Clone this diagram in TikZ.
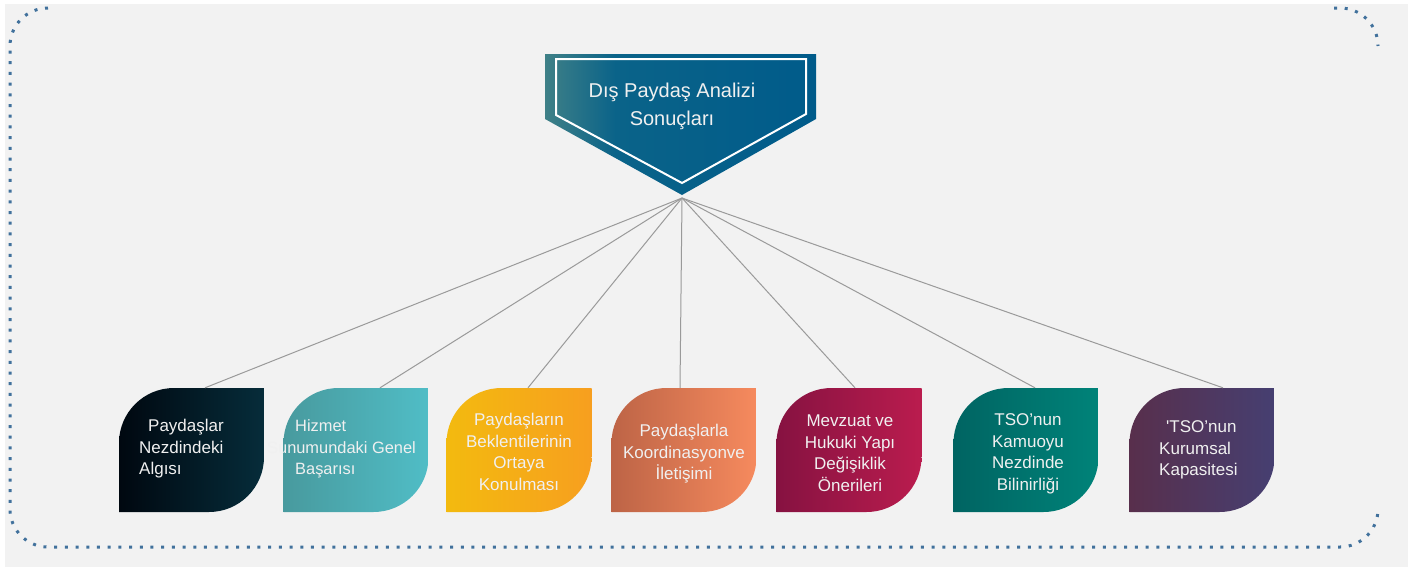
\documentclass[tikz,border=0pt]{standalone}
\usepackage{fontspec}
\setmainfont{Liberation Sans}
\definecolor{bggray}{HTML}{F2F2F2}
\definecolor{dotblue}{HTML}{41719C}
\definecolor{linkgray}{HTML}{9A9A9A}
\definecolor{headteal}{HTML}{3F8087}
\definecolor{headblue}{HTML}{0A6389}
\definecolor{headdark}{HTML}{005B8A}
\definecolor{b1left}{HTML}{000810}
\definecolor{b1right}{HTML}{062C3A}
\definecolor{b2left}{HTML}{489A9E}
\definecolor{b2right}{HTML}{50BDC6}
\definecolor{b3left}{HTML}{F3BA0F}
\definecolor{b3right}{HTML}{F79F1F}
\definecolor{b4left}{HTML}{BD6446}
\definecolor{b4right}{HTML}{F68A5E}
\definecolor{b5left}{HTML}{861241}
\definecolor{b5right}{HTML}{BA1C4E}
\definecolor{b6left}{HTML}{006462}
\definecolor{b6right}{HTML}{008379}
\definecolor{b7left}{HTML}{582F4C}
\definecolor{b7right}{HTML}{463F71}
\pgfdeclarehorizontalshading{headshade}{100bp}{color(0bp)=(headteal); color(25bp)=(headteal); color(38bp)=(headblue); color(75bp)=(headdark); color(100bp)=(headdark)}

\begin{document}
\begin{tikzpicture}[x=1pt, y=1pt,
	petal/.style 2 args={minimum width=145pt, minimum height=124pt, inner sep=0pt,
		path picture={\shade[left color=#1, right color=#2]
			([yshift=-55pt]path picture bounding box.north west) arc (180:90:55pt)
			-- (path picture bounding box.north east)
			-- ([yshift=55pt]path picture bounding box.south east) arc (0:-90:55pt)
			-- (path picture bounding box.south west) -- cycle;}},
	boxtext/.style={text=white!94!black, font=\fontsize{17}{21.5}\selectfont, inner sep=0pt},
	headtext/.style={text=white!94!black, font=\fontsize{20}{28}\selectfont, inner sep=0pt},
	link/.style={draw=linkgray, line width=1pt}]

	\useasboundingbox (0,0) rectangle (1416,-571);
	\fill[bggray] (5,-4) rectangle (1408,-567);

	%dotted frame
	\begin{scope}[dotblue, line width=3pt, dash pattern=on 3pt off 7.7pt]
		\draw (48,-8) arc (90:180:38) -- (10,-509) arc (180:270:38) -- (1340,-547) arc (270:360:38);
		\draw (1334,-8) -- (1340,-8) arc (90:0:38);
	\end{scope}

	%title
	\shade[shading=headshade] (545,-54) -- (816,-54) -- (816,-119) -- (682,-195) -- (545,-119) -- cycle;
	\draw[white, line width=2pt] (556,-59) -- (806,-59) -- (806,-114) -- (682,-183) -- (556,-115) -- cycle;
	\node[headtext, align=center] (head) at (672,-106) {Dış Paydaş Analizi\\Sonuçları};
	\coordinate (hub) at (682,-198);

	%boxes
	\node[petal={b1left}{b1right}] (b1) at (191.5,-450) {};
	\node[petal={b2left}{b2right}] (b2) at (356,-450) {};
	\node[petal={b3left}{b3right}] (b3) at (519,-450) {};
	\node[petal={b4left}{b4right}] (b4) at (684,-450) {};
	\node[petal={b5left}{b5right}] (b5) at (849,-450) {};
	\node[petal={b6left}{b6right}] (b6) at (1026,-450) {};
	\node[petal={b7left}{b7right}] (b7) at (1202,-450) {};

	%box labels
	\node[boxtext, align=left, anchor=west] (t1) at (139,-449) {\hspace*{9pt}Paydaşlar\\Nezdindeki\\Algısı};
	\node[boxtext, font=\fontsize{16.4}{21.5}\selectfont, align=left, anchor=west] (t2) at (267,-449) {\hspace*{28pt}Hizmet\\Sunumundaki Genel\\\hspace*{28pt}Başarısı};
	\node[boxtext, align=center] (t3) at (519,-452) {Paydaşların\\Beklentilerinin\\Ortaya\\Konulması};
	\node[boxtext, align=center] (t4) at (684,-454) {Paydaşlarla\\Koordinasyonve\\İletişimi};
	\node[boxtext, align=center] (t5) at (850,-453) {Mevzuat ve\\Hukuki Yapı\\Değişiklik\\Önerileri};
	\node[boxtext, align=center] (t6) at (1028,-454) {TSO’nun\\Kamuoyu\\Nezdinde\\Bilinirliği};
	\node[boxtext, align=left, anchor=west] (t7) at (1159,-450) {\hspace*{7pt}\textquotesingle TSO’nun\\Kurumsal\\Kapasitesi};

	%connectors
	\draw[link] (hub) -- ([xshift=13.5pt]b1.north);
	\draw[link] (hub) -- ([xshift=24pt]b2.north);
	\draw[link] (hub) -- ([xshift=9pt]b3.north);
	\draw[link] (hub) -- ([xshift=-4pt]b4.north);
	\draw[link] (hub) -- ([xshift=6pt]b5.north);
	\draw[link] (hub) -- ([xshift=9pt]b6.north);
	\draw[link] (hub) -- ([xshift=21pt]b7.north);

\end{tikzpicture}
\end{document}
